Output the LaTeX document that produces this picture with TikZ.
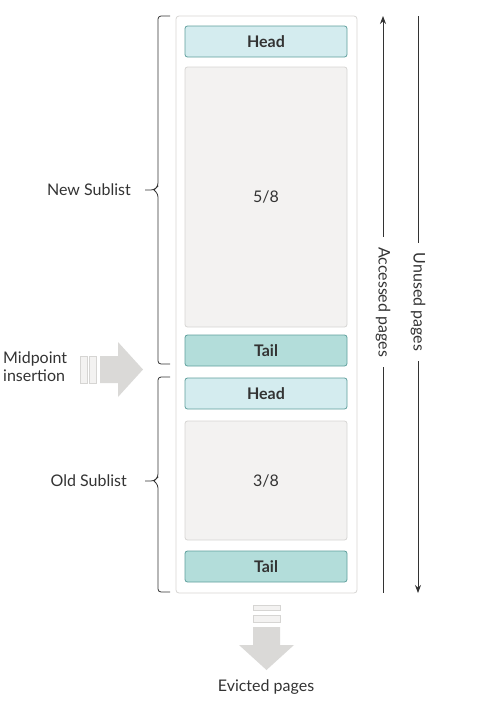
\documentclass[tikz,border=0pt]{standalone}
\usepackage{fontspec}
\setmainfont{Lato}
\usetikzlibrary{arrows.meta}
\definecolor{headfill}{HTML}{D4ECEF}
\definecolor{tailfill}{HTML}{B3DDDA}
\definecolor{tealline}{HTML}{5E9F9C}
\definecolor{pagefill}{HTML}{F3F2F1}
\definecolor{pageline}{HTML}{D6D5D3}
\definecolor{arrowgray}{HTML}{DAD9D7}
\definecolor{txt}{HTML}{333333}
\begin{document}
\begin{tikzpicture}[x=1pt,y=-1pt,
    every node/.style={text=txt,font=\fontsize{16}{18}\selectfont},
    slot/.style={draw=tealline,line width=0.8pt,rounded corners=2.5pt,minimum width=162pt,minimum height=31pt,font=\fontsize{16}{18}\selectfont\bfseries},
    pages/.style={draw=pageline,line width=0.8pt,fill=pagefill,rounded corners=2.5pt,minimum width=162pt},
    brace/.style={draw=txt,line width=0.8pt,rounded corners=3pt},
    tip/.style={-{Stealth[length=8pt,width=6pt]}}]
  \useasboundingbox (0,0) rectangle (477,710);
  % Buffer pool
  \node[draw=pageline,line width=0.8pt,rounded corners=3pt,minimum width=181pt,minimum height=577pt] (pool) at (266.5,304.5) {};
  \node[slot,fill=headfill] (newhead) at (266,41.5) {Head};
  \node[pages,minimum height=260pt] (newpages) at (266,197) {5/8};
  \node[slot,fill=tailfill] (newtail) at (266,350.5) {Tail};
  \node[slot,fill=headfill] (oldhead) at (266,393.5) {Head};
  \node[pages,minimum height=119pt] (oldpages) at (266,480.5) {3/8};
  \node[slot,fill=tailfill] (oldtail) at (266,566.5) {Tail};
  % Sublists
  \node[anchor=east,inner sep=0pt] (newlabel) at (131,190) {New Sublist};
  \node[anchor=east,inner sep=0pt] (oldlabel) at (127,481) {Old Sublist};
  \draw[brace] (170,16) -| (158,186) -- (154,190) -- (145,190);
  \draw[brace] (154,190) -- (158,194) |- (170,364);
  \draw[brace] (170,377) -| (158,477) -- (154,481) -- (145,481);
  \draw[brace] (154,481) -- (158,485) |- (170,592);
  % Page arrows
  \coordinate (acctop) at (383,16);
  \coordinate (accbot) at (383,593);
  \coordinate (unutop) at (418,16);
  \coordinate (unubot) at (418,593);
  \node[rotate=-90,inner xsep=10pt] (accessed) at (383,302) {Accessed pages};
  \node[rotate=-90,inner xsep=10pt] (unused) at (418,302) {Unused pages};
  \draw[txt,line width=0.8pt,tip] (accessed.west) -- (acctop);
  \draw[txt,line width=0.8pt] (accessed.east) -- (accbot);
  \draw[txt,line width=0.8pt] (unused.west) -- (unutop);
  \draw[txt,line width=0.8pt,tip] (unused.east) -- (unubot);
  % Midpoint insertion
  \node[anchor=west,align=left,inner sep=0pt] (midlabel) at (3,367) {Midpoint\\insertion};
  \foreach \x in {80,89}
    \draw[pageline,fill=pagefill,line width=0.6pt] (\x,356) rectangle ++(7,27);
  \fill[arrowgray] (100,356) -- (118,356) -- (118,342) -- (143,369.5) -- (118,397) -- (118,383) -- (100,383) -- cycle;
  % Evicted pages
  \foreach \y/\h in {605/5,615/7}
    \draw[pageline,fill=pagefill,line width=0.6pt] (253,\y) rectangle ++(27,\h);
  \fill[arrowgray] (253,627) -- (280,627) -- (280,645) -- (294,645) -- (266.5,670) -- (239,645) -- (253,645) -- cycle;
  \node (evicted) at (266,687) {Evicted pages};
\end{tikzpicture}
\end{document}
